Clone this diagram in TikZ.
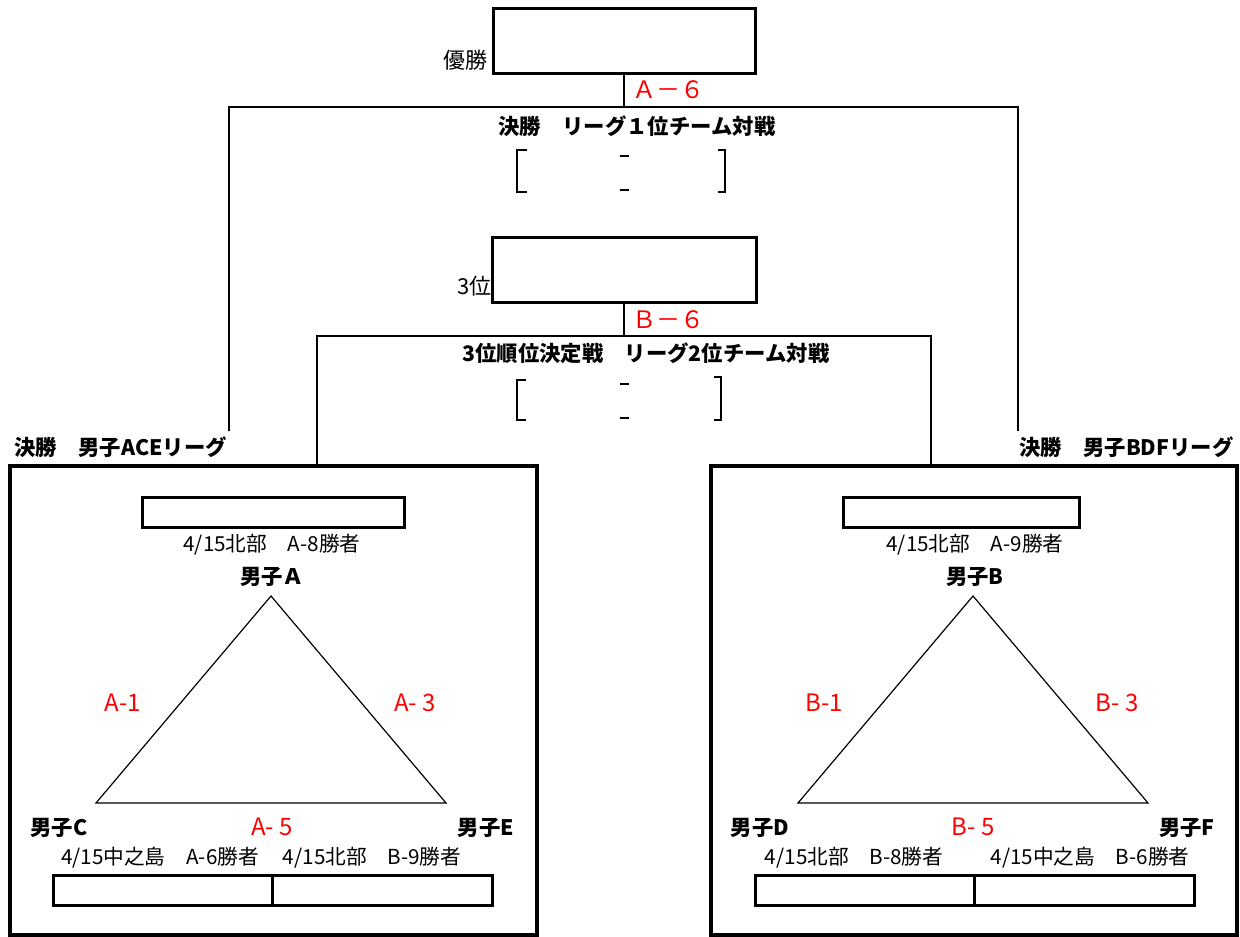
\documentclass[tikz,border=0pt]{standalone}
\usepackage{fontspec}
\setmainfont{Noto Sans CJK JP}
\usetikzlibrary{positioning}
\tikzset{%
	box/.style     = {draw, rectangle, line width=2.25pt, inner sep=0pt, minimum height=48.75pt}, % result box
	league/.style  = {draw, rectangle, line width=3pt, inner sep=0pt, minimum height=351.75pt}, % league frame
	slot/.style    = {draw, rectangle, line width=2.25pt, inner sep=0pt, minimum height=22.5pt}, % team slot
	title/.style   = {font=\fontsize{16}{19}\selectfont\bfseries, inner sep=1pt},
	note/.style    = {font=\fontsize{15.5}{18}\selectfont, inner sep=1pt},
	place/.style   = {font=\fontsize{16.5}{19}\selectfont, inner sep=1pt},
	team/.style    = {font=\fontsize{16}{19}\selectfont\bfseries, inner sep=1pt},
	game/.style    = {font=\fontsize{18}{21}\selectfont, text=red, inner sep=1pt},
	line/.style    = {line width=1.6pt},
	tri/.style     = {line width=0.9pt, line join=miter},
	bracket/.style = {line width=1pt},
}

\begin{document}
\begin{tikzpicture}[x=0.75pt,y=-0.75pt]
	\useasboundingbox (0,0) rectangle (1240,937);
	
	% final and third place
	\node [box,minimum width=196.5pt] (champ) at (624,41.5) {};
	\node [place,anchor=south east] (champlbl) at (489,72) {優勝};
	\node [box,minimum width=198pt] (third) at (624,270.5) {};
	\node [place,anchor=south east] (thirdlbl) at (493,298) {3位};
	\node [game,anchor=west] (gA6) at (631,90) {Ａ－６};
	\node [game,anchor=west] (gB6) at (631,320) {Ｂ－６};
	\node [title] (fintitle) at (637,126) {決勝　リーグ１位チーム対戦};
	\node [title] (thtitle) at (646,353) {3位順位決定戦　リーグ2位チーム対戦};
	
	% brackets
	\draw[bracket] (527,150) -- (517,150) -- (517,192) -- (527,192);
	\draw[bracket] (718,150) -- (725,150) -- (725,192) -- (718,192);
	\draw[bracket] (620,156) -- (629,156) (620,190) -- (629,190);
	\draw[bracket] (526,380) -- (517,380) -- (517,420) -- (526,420);
	\draw[bracket] (714,377) -- (721,377) -- (721,420) -- (714,420);
	\draw[bracket] (620,384) -- (629,384) (620,418) -- (629,418);
	
	% leagues
	\node [league,minimum width=395.25pt] (leagueL) at (273.5,700.5) {};
	\node [league,minimum width=394.5pt] (leagueR) at (974,700.5) {};
	\node [title,anchor=west] (ACE) at (13,447) {決勝　男子ACEリーグ};
	\node [title,anchor=east] (BDF) at (1235,447) {決勝　男子BDFリーグ};
	
	\coordinate (finL) at (229,107);
	\coordinate (finR) at (1018,107);
	\coordinate (finLend) at (229,431);
	\coordinate (finRend) at (1018,431);
	\coordinate (thL) at (317,336);
	\coordinate (thR) at (931,336);
	
	\draw[line] (champ.south) -- (champ.south |- finL);
	\draw[line] (finLend) -- (finL) -- (finR) -- (finRend);
	\draw[line] (third.south) -- (third.south |- thL);
	\draw[line] (leagueL.north -| thL) -- (thL) -- (thR) -- (leagueR.north -| thR);
	
	% league ACE
	\node [slot,minimum width=196.5pt] (slotA) at (273,513) {};
	\node [note] (dateA) at (272,545) {4/15北部　A-8勝者};
	\node [team] (teamA) at (272,577) {男子Ａ};
	\coordinate (tA) at (271,596);
	\coordinate (tC) at (96,803);
	\coordinate (tE) at (446,803);
	\draw[tri] (tA) -- (tC) -- (tE) -- cycle;
	\node [game] (gA1) at (123,703) {A-1};
	\node [game] (gA3) at (415,703) {A- 3};
	\node [game] (gA5) at (272,827) {A- 5};
	\node [team] (teamC) at (59,828) {男子C};
	\node [team] (teamE) at (486,828) {男子E};
	\node [note] (dateC) at (160,858) {4/15中之島　A-6勝者};
	\node [note] (dateE) at (372,858) {4/15北部　B-9勝者};
	\node [slot,minimum width=164.25pt] (slotC) at (162.5,890) {};
	\node [slot,minimum width=165pt] (slotE) at (382,890) {};
	
	% league BDF
	\node [slot,minimum width=177pt] (slotB) at (961,513) {};
	\node [note] (dateB) at (975,545) {4/15北部　A-9勝者};
	\node [team] (teamB) at (975,577) {男子B};
	\coordinate (tB) at (973,596);
	\coordinate (tD) at (798,803);
	\coordinate (tF) at (1148,803);
	\draw[tri] (tB) -- (tD) -- (tF) -- cycle;
	\node [game] (gB1) at (824,703) {B-1};
	\node [game] (gB3) at (1117,703) {B- 3};
	\node [game] (gB5) at (973,827) {B- 5};
	\node [team] (teamD) at (760,828) {男子D};
	\node [team] (teamF) at (1187,828) {男子F};
	\node [note] (dateD) at (854,858) {4/15北部　B-8勝者};
	\node [note] (dateF) at (1090,858) {4/15中之島　B-6勝者};
	\node [slot,minimum width=164.25pt] (slotD) at (864.5,890) {};
	\node [slot,minimum width=165pt] (slotF) at (1084,890) {};
\end{tikzpicture}
\end{document}
